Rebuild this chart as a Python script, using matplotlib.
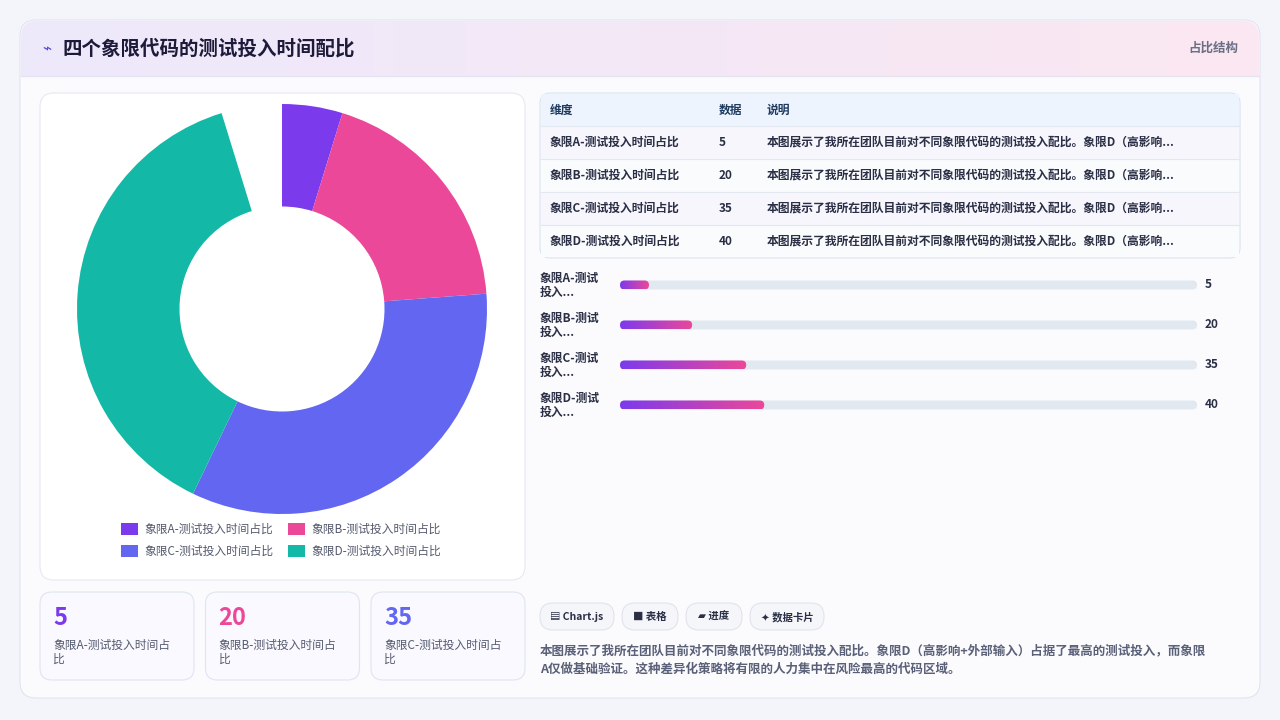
import matplotlib
matplotlib.use("Agg")
import matplotlib.pyplot as plt
from matplotlib.patches import FancyBboxPatch, Rectangle
from matplotlib.colors import LinearSegmentedColormap
import numpy as np

plt.rcParams['font.family'] = ['Noto Sans CJK SC', 'DejaVu Sans']

title = "四个象限代码的测试投入时间配比"
categories = ["象限A-测试投入时间占比", "象限B-测试投入时间占比", "象限C-测试投入时间占比", "象限D-测试投入时间占比"]
values = [5, 20, 35, 40]
colors = ["#7c3aed", "#ec4899", "#6366f1", "#14b8a6"]
bar_labels = ["象限A-测试\n投入...", "象限B-测试\n投入...", "象限C-测试\n投入...", "象限D-测试\n投入..."]
desc = "本图展示了我所在团队目前对不同象限代码的测试投入配比。象限D（高影响..."
note = "本图展示了我所在团队目前对不同象限代码的测试投入配比。象限D（高影响+外部输入）占据了最高的测试投入，而象限\nA仅做基础验证。这种差异化策略将有限的人力集中在风险最高的代码区域。"
chips = ["▤ Chart.js", "■ 表格", "▰ 进度", "✦ 数据卡片"]
chip_w = [74, 56, 56, 74]
gap = 5

fig = plt.figure(figsize=(12.8, 7.2), dpi=100)
fig.patch.set_facecolor("#f4f5fa")
bg = fig.add_axes([0, 0, 1, 1])
bg.set_xlim(0, 1280); bg.set_ylim(720, 0); bg.axis("off")

def rbox(x, y, w, h, r, fc, ec="none", lw=0.8, z=1):
    bg.add_patch(FancyBboxPatch((x + r, y + r), w - 2 * r, h - 2 * r,
                                boxstyle=f"round,pad={r}", fc=fc, ec=ec, lw=lw, zorder=z))

rbox(20, 20, 1240, 678, 16, "#fbfbfe", "#e2e4f0")
grad = np.linspace(0, 1, 256).reshape(1, -1)
cm = LinearSegmentedColormap.from_list("h", ["#ede9fb", "#fbe7f1"])
im = bg.imshow(grad, cmap=cm, extent=(21, 1259, 76, 21), aspect="auto", zorder=1.5)
clip = FancyBboxPatch((37, 37), 1206, 645, boxstyle="round,pad=16", transform=bg.transData)
im.set_clip_path(clip)
bg.plot([21, 1259], [76, 76], color="#e6e3f3", lw=1, zorder=2)
bg.text(42, 49, "⌁", fontsize=11, color="#4f46e5", va="center", zorder=3, family=['DejaVu Sans'])
bg.text(62, 49, title, fontsize=14, fontweight="bold", color="#1e1b3a", va="center", zorder=3)
bg.text(1238, 48, "占比结构", fontsize=9, color="#6b6f85", va="center", ha="right", fontweight="bold", zorder=3)

rbox(40, 93, 485, 487, 14, "white", "#e6e9f2", z=2)
ax = fig.add_axes([(282 - 205) / 1280, 1 - (309 + 205) / 720, 410 / 1280, 410 / 720])
ax.pie(values + [gap], colors=colors + ["none"], startangle=90, counterclock=False,
       wedgeprops=dict(width=0.5, edgecolor="none"))
ax.set_xlim(-1, 1); ax.set_ylim(-1, 1)
ax.set_aspect("equal")
for i, (c, lab) in enumerate(zip(colors, categories)):
    x = 121 + (i % 2) * 167
    y = 529 + (i // 2) * 22
    bg.add_patch(Rectangle((x, y - 6), 17, 12, fc=c, zorder=3))
    bg.text(x + 23, y, lab, fontsize=8.5, color="#555a6e", va="center", zorder=3)

rbox(540, 93, 700, 165, 10, "white", "#d9e2ef", z=2)
bg.add_patch(Rectangle((541, 94), 698, 32, fc="#eef4fd", zorder=2.5))
for x, h in [(550, "维度"), (719, "数据"), (767, "说明")]:
    bg.text(x, 110, h, fontsize=8.5, fontweight="bold", color="#1e3a5f", va="center", zorder=3)
for i, (lab, v) in enumerate(zip(categories, values)):
    y0 = 126 + i * 33
    bg.add_patch(Rectangle((541, y0), 698, 32 if i == 3 else 33,
                           fc="#f7f6fd" if i % 2 == 0 else "#fafbfd", zorder=2.5))
    bg.plot([541, 1239], [y0, y0], color="#e3e8f0", lw=0.8, zorder=2.6)
    yc = y0 + 16.5
    bg.text(550, yc, lab, fontsize=8.5, fontweight="bold", color="#2a2f45", va="center", zorder=3)
    bg.text(719, yc, str(v), fontsize=8.5, fontweight="bold", color="#2a2f45", va="center", zorder=3)
    bg.text(767, yc, desc, fontsize=8.5, fontweight="bold", color="#2a2f45", va="center", zorder=3)

bcm = LinearSegmentedColormap.from_list("b", ["#7c3aed", "#ec4899"])
x0, x1, scale = 620, 1197, 160
for i, (lab, v) in enumerate(zip(bar_labels, values)):
    yc = 285 + i * 40
    bg.text(540, yc, lab, fontsize=8.5, fontweight="bold", color="#2a2f45", va="center", linespacing=1.1, zorder=3)
    rbox(x0, yc - 4.5, x1 - x0, 9, 4.5, "#e2e8f0", z=2)
    w = max(v / scale * (x1 - x0), 29)
    bi = bg.imshow(grad, cmap=bcm, extent=(x0, x0 + w, yc + 4.5, yc - 4.5), aspect="auto", zorder=3)
    cp = FancyBboxPatch((x0 + 4.5, yc), w - 9, 0, boxstyle="round,pad=4.5", transform=bg.transData)
    bi.set_clip_path(cp)
    bg.text(1205, yc, str(v), fontsize=8.5, fontweight="bold", color="#2a2f45", va="center", zorder=3)
bg.set_xlim(0, 1280); bg.set_ylim(720, 0)

for i in range(3):
    x = 40 + i * 165.5
    rbox(x, 592, 154, 88, 12, "#f9f9ff", "#dfe5f0", z=2)
    bg.text(x + 13, 618, str(values[i]), fontsize=17, fontweight="bold", color=colors[i], va="center", zorder=3)
    bg.text(x + 13, 652, "象限" + "ABC"[i] + "-测试投入时间占\n比", fontsize=8.5, color="#555a6e",
            va="center", linespacing=1.1, zorder=3)

cx = 540
for ch, w in zip(chips, chip_w):
    rbox(cx, 603, w, 27, 13, "#f5f6fa", "#e1e4ec", z=2)
    bg.text(cx + w / 2, 617, ch, fontsize=7.5, fontweight="bold", color="#2a2f45", ha="center", va="center",
            zorder=3, family=['Noto Sans CJK SC', 'DejaVu Sans'])
    cx += w + 8
bg.text(540, 660, note, fontsize=9, fontweight="bold", color="#5a6078", va="center", linespacing=1.5, zorder=3)

fig.savefig("out.png", dpi=100, facecolor=fig.get_facecolor())
